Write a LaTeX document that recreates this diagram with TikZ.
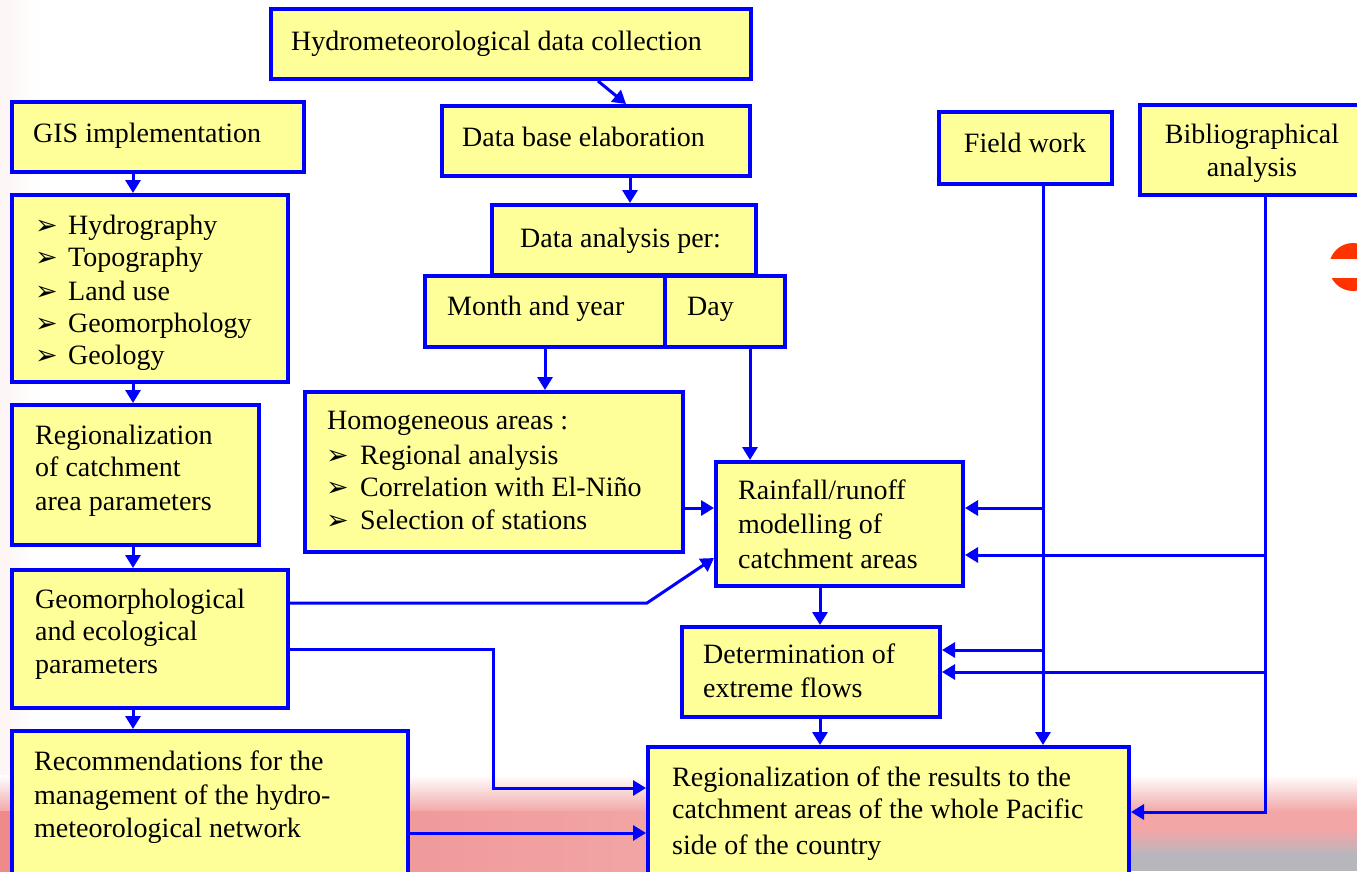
\documentclass[tikz,border=0pt]{standalone}
\usepackage{fontspec}
\setmainfont{Liberation Serif}
\newfontfamily\dvs{DejaVu Sans}
\usetikzlibrary{arrows.meta}
\definecolor{boxfill}{HTML}{FFFF99}
\definecolor{lineblue}{HTML}{0000FF}
\definecolor{bgpink}{HTML}{F2A6A6}
\definecolor{bgred}{HTML}{EE8A8A}
\definecolor{bggrey}{HTML}{A6A4AC}
\definecolor{dotred}{HTML}{FF3300}
\begin{document}
\begin{tikzpicture}[x=1pt,y=-1pt,
  box/.style={draw=lineblue, line width=4pt, fill=boxfill, rectangle, inner sep=0pt},
  txt/.style={anchor=base west, inner sep=0pt, font=\fontsize{28}{33}\selectfont, text=black},
  ctxt/.style={anchor=base, inner sep=0pt, font=\fontsize{28}{33}\selectfont, text=black},
  bul/.style={anchor=base west, inner sep=0pt, font=\dvs\fontsize{27}{30}\selectfont, text=black},
  con/.style={draw=lineblue, line width=3pt},
  arr/.style={con, -{Triangle[length=13pt,width=15pt]}}]
\useasboundingbox (0,0) rectangle (1357,871);
% background
\fill[white] (0,0) rectangle (1357,871);
\shade[left color=bgpink!12, right color=white] (0,0) rectangle (40,871);
\shade[top color=white, bottom color=bgpink] (0,775) rectangle (1357,812);
\fill[bgpink] (0,811) rectangle (1357,871);
\shade[left color=bgred, right color=bgpink] (0,811) rectangle (700,871);
\shade[top color=bgpink, bottom color=bggrey!80] (1000,830) rectangle (1357,855);
\fill[bggrey!80] (1000,854) rectangle (1357,871);
\fill[dotred] (1353,267) circle (24);
\fill[white] (1325,259) rectangle (1357,278);
% boxes
\node[box, minimum width=480pt, minimum height=70pt] (hyd) at (511,44) {};
\node[box, minimum width=308pt, minimum height=70pt] (dbe) at (596,141) {};
\node[box, minimum width=292pt, minimum height=70pt] (gis) at (158,137) {};
\node[box, minimum width=276pt, minimum height=187pt] (lst) at (150,288.5) {};
\node[box, minimum width=264pt, minimum height=70pt] (dap) at (624,240) {};
\node[box, minimum width=240pt, minimum height=71pt] (mon) at (545,311.5) {};
\node[box, minimum width=120pt, minimum height=71pt] (day) at (725,311.5) {};
\node[box, minimum width=247pt, minimum height=140pt] (reg) at (135.5,475) {};
\node[box, minimum width=378pt, minimum height=160pt] (hom) at (494,472) {};
\node[box, minimum width=247pt, minimum height=124pt] (rai) at (839.5,524) {};
\node[box, minimum width=276pt, minimum height=138pt] (geo) at (150,639) {};
\node[box, minimum width=258pt, minimum height=90pt] (det) at (811,672) {};
\node[box, minimum width=396pt, minimum height=150pt] (rec) at (210,806) {};
\node[box, minimum width=481pt, minimum height=134pt] (res) at (888.5,814) {};
\node[box, minimum width=173pt, minimum height=72pt] (fie) at (1025.5,148) {};
\node[box, minimum width=240pt, minimum height=90pt] (bib) at (1260,150) {};
% helper coordinates
\coordinate (c133) at (133,0);
\coordinate (c598) at (598,0);
\coordinate (c626) at (626,0);
\coordinate (c630) at (630,0);
\coordinate (c750) at (750,0);
\coordinate (c820) at (820,0);
\coordinate (c493) at (493,0);
\coordinate (c647) at (647,0);
\coordinate (c1043) at (1043,0);
\coordinate (c1265) at (1265,0);
\coordinate (y508) at (0,508);
\coordinate (y555) at (0,555);
\coordinate (y558) at (0,558);
\coordinate (y603) at (0,603);
\coordinate (y649) at (0,649);
\coordinate (y650) at (0,650);
\coordinate (y672) at (0,672);
\coordinate (y788) at (0,788);
\coordinate (y812) at (0,812);
\coordinate (y833) at (0,833);
% connectors
\draw[arr] (hyd.south -| c598) -- (dbe.north -| c626);
\draw[arr] (dbe.south -| c630) -- (dap.north -| c630);
\draw[arr] (gis.south -| c133) -- (lst.north -| c133);
\draw[arr] (lst.south -| c133) -- (reg.north -| c133);
\draw[arr] (reg.south -| c133) -- (geo.north -| c133);
\draw[arr] (geo.south -| c133) -- (rec.north -| c133);
\draw[arr] (mon.south) -- (hom.north -| mon.south);
\draw[arr] (day.south -| c750) -- (rai.north -| c750);
\draw[arr] (hom.east |- y508) -- (rai.west |- y508);
\draw[arr] (geo.east |- y603) -- (c647 |- y603) -- (rai.west |- y558);
\draw[arr] (geo.east |- y649) -| (c493 |- y788) -- (res.west |- y788);
\draw[arr] (rec.east |- y833) -- (res.west |- y833);
\draw[arr] (rai.south -| c820) -- (det.north -| c820);
\draw[arr] (det.south -| c820) -- (res.north -| c820);
\draw[arr] (fie.south -| c1043) -- (res.north -| c1043);
\draw[arr] (c1043 |- y508) -- (rai.east |- y508);
\draw[arr] (c1043 |- y650) -- (det.east |- y650);
\draw[arr] (bib.south -| c1265) |- (res.east |- y812);
\draw[arr] (c1265 |- y555) -- (rai.east |- y555);
\draw[arr] (c1265 |- y672) -- (det.east |- y672);
% texts
\node[txt] (hyd-t) at (291,50) {Hydrometeorological data collection};
\node[txt] (dbe-t) at (462,146) {Data base elaboration};
\node[txt] (gis-t) at (33,142) {GIS implementation};
\node[bul] (lst-b1) at (35,234) {➢};
\node[bul] (lst-b2) at (35,266) {➢};
\node[bul] (lst-b3) at (35,300) {➢};
\node[bul] (lst-b4) at (35,332) {➢};
\node[bul] (lst-b5) at (35,364) {➢};
\node[txt] (lst-t1) at (68,234) {Hydrography};
\node[txt] (lst-t2) at (68,266) {Topography};
\node[txt] (lst-t3) at (68,300) {Land use};
\node[txt] (lst-t4) at (68,332) {Geomorphology};
\node[txt] (lst-t5) at (68,364) {Geology};
\node[txt] (dap-t) at (520,247) {Data analysis per:};
\node[txt] (mon-t) at (447,315) {Month and year};
\node[txt] (day-t) at (687,315) {Day};
\node[txt] (reg-t1) at (35,444) {Regionalization};
\node[txt] (reg-t2) at (35,476) {of catchment};
\node[txt] (reg-t3) at (35,510) {area parameters};
\node[txt] (hom-t0) at (327,429) {Homogeneous areas :};
\node[bul] (hom-b1) at (326,464) {➢};
\node[bul] (hom-b2) at (326,496) {➢};
\node[bul] (hom-b3) at (326,529) {➢};
\node[txt] (hom-t1) at (360,464) {Regional analysis};
\node[txt] (hom-t2) at (360,496) {Correlation with El-Niño};
\node[txt] (hom-t3) at (360,529) {Selection of stations};
\node[txt] (rai-t1) at (738,499) {Rainfall/runoff};
\node[txt] (rai-t2) at (738,533) {modelling of};
\node[txt] (rai-t3) at (738,568) {catchment areas};
\node[txt] (geo-t1) at (35,608) {Geomorphological};
\node[txt] (geo-t2) at (35,640) {and ecological};
\node[txt] (geo-t3) at (35,673) {parameters};
\node[txt] (det-t1) at (703,663) {Determination of};
\node[txt] (det-t2) at (703,697) {extreme flows};
\node[txt] (rec-t1) at (34,770) {Recommendations for the};
\node[txt] (rec-t2) at (34,804) {management of the hydro-};
\node[txt] (rec-t3) at (34,837) {meteorological network};
\node[txt] (res-t1) at (672,786) {Regionalization of the results to the};
\node[txt] (res-t2) at (672,818) {catchment areas of the whole Pacific};
\node[txt] (res-t3) at (672,854) {side of the country};
\node[ctxt] (fie-t) at (1025,152) {Field work};
\node[ctxt] (bib-t1) at (1252,143) {Bibliographical};
\node[ctxt] (bib-t2) at (1252,176) {analysis};
\end{tikzpicture}
\end{document}
